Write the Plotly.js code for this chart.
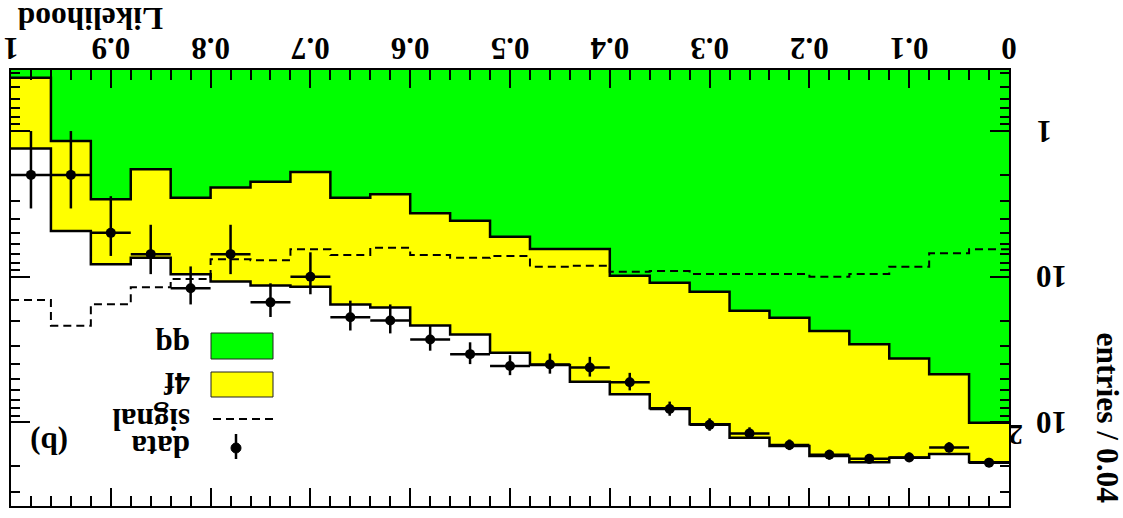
<!DOCTYPE html>
<html>
<head>
<meta charset="utf-8">
<script src="https://cdn.plot.ly/plotly-3.0.1.min.js"></script>
<style>
html,body{margin:0;padding:0;background:#fff;overflow:hidden;}
#chart{width:1123px;height:518px;transform:rotate(180deg);transform-origin:50% 50%;}
</style>
</head>
<body>
<div id="chart"></div>
<script>
// Bin edges of the Likelihood histogram (width 0.04)
const binEdges = [0,0.04,0.08,0.12,0.16,0.2,0.24,0.28,0.32,0.36,0.4,0.44,0.48,0.52,0.56,0.6,0.64,0.68,0.72,0.76,0.8,0.84,0.88,0.92,0.96,1.0];
const binCenters = [0.02,0.06,0.1,0.14,0.18,0.22,0.26,0.3,0.34,0.38,0.42,0.46,0.5,0.54,0.58,0.62,0.66,0.7,0.74,0.78,0.82,0.86,0.9,0.94,0.98];

// qq background (green)
const qqValues = [100.6,46.8,36.4,29.1,23.6,19.1,17.1,12.7,11.0,9.85,6.46,6.46,5.32,4.13,3.67,2.72,2.87,1.91,2.23,2.44,2.87,1.83,2.94,1.17,0.43];
// qq + 4f (total background, yellow region on top of qq)
const totalValues = [188,165,175,188,170,145,127.5,103,80,64,52.6,40.4,33.3,24.9,21.6,16.3,15.5,11.7,11.5,10.8,9.6,7.4,8.2,4.86,1.32];
// signal (dashed)
const signalValues = [6.49,6.91,8.54,9.59,10.0,9.59,9.59,9.59,9.14,9.25,8.41,8.54,7.22,7.41,7.10,6.33,7.10,6.49,7.72,7.60,10.37,11.83,15.48,21.7,14.46];
// data
const dataValues = [189,149,174,178,167,143,119,104,81,53,42,40,41,34,27,20,19,10,15,7,12,7,5,2,2];
const dataErrUp = [13.7,12.2,13.2,13.3,12.9,12.0,10.9,10.2,9.0,7.3,6.5,6.3,6.4,5.8,5.2,4.5,4.4,3.2,3.9,2.6,3.5,2.6,2.2,1.4,1.4];
const dataErrDown = [13.7,12.2,13.2,13.3,12.9,12.0,10.9,10.2,9.0,7.3,6.5,6.3,6.4,5.8,5.2,4.5,4.4,3.2,3.9,2.6,3.5,2.6,2.2,1.0,1.0];
const binHalfWidth = [0.02,0.02,0.02,0.02,0.02,0.02,0.02,0.02,0.02,0.02,0.02,0.02,0.02,0.02,0.02,0.02,0.02,0.02,0.02,0.02,0.02,0.02,0.02,0.02,0.02];

// tick labels
const xTickVals = [0,0.1,0.2,0.3,0.4,0.5,0.6,0.7,0.8,0.9,1];
const xTickText = ['0','0.1','0.2','0.3','0.4','0.5','0.6','0.7','0.8','0.9','1'];
const yTickVals = [1,10,100];
const yTickBase = ['1','10','10'];
const yTickExp = ['','','2'];
const yMinorVals = [0.4,0.5,0.6,0.7,0.8,0.9,2,3,4,5,6,7,8,9,20,30,40,50,60,70,80,90,200,300];
const legendLabels = ['data','signal','4f','qq'];

function stepY(v){ return v.concat([v[v.length-1]]); }
const floorValues = binEdges.map(()=>0.01);

const FONT = 'Liberation Serif, Times New Roman, serif';
const lineW = 2.5;

const traces = [
  {x:binEdges, y:floorValues, mode:'lines', line:{width:0, shape:'hv'}, hoverinfo:'skip'},
  {x:binEdges, y:stepY(qqValues), mode:'lines', line:{color:'black', width:lineW, shape:'hv'}, fill:'tonexty', fillcolor:'#00ff00'},
  {x:binEdges, y:stepY(totalValues), mode:'lines', line:{color:'black', width:lineW, shape:'hv'}, fill:'tonexty', fillcolor:'#ffff00'},
  {x:binEdges, y:stepY(signalValues), mode:'lines', line:{color:'black', width:2, shape:'hv', dash:'8px,5px'}},
  {x:binCenters, y:dataValues, mode:'markers', marker:{color:'black', size:10},
   error_y:{type:'data', symmetric:false, array:dataErrUp, arrayminus:dataErrDown, color:'black', thickness:2.5, width:0},
   error_x:{type:'data', array:binHalfWidth, color:'black', thickness:2.5, width:0}}
];

// plot-area pixel helpers (unrotated frame: x 114..1112, y 12..448)
const L=114, R=1112, T=12, B=448;
const px = v => (v-L)/(R-L);
const py = v => (B-v)/(B-T);

const shapes = [
  {type:'rect', xref:'paper', yref:'paper', x0:px(850), x1:px(912), y0:py(185), y1:py(159), fillcolor:'#00ff00', line:{color:'#222', width:1}},
  {type:'rect', xref:'paper', yref:'paper', x0:px(850), x1:px(912), y0:py(146), y1:py(121), fillcolor:'#ffff00', line:{color:'#222', width:1}},
  {type:'line', xref:'paper', yref:'paper', x0:px(850), x1:px(912), y0:py(99), y1:py(99), line:{color:'black', width:2, dash:'8px,5px'}},
  {type:'line', xref:'paper', yref:'paper', x0:px(887), x1:px(887), y0:py(59), y1:py(84), line:{color:'black', width:2.5}},
  {type:'circle', xref:'paper', yref:'paper', x0:px(882), x1:px(892), y0:py(75), y1:py(65), fillcolor:'black', line:{color:'black', width:1}}
];

const txtFont = s => ({family:FONT, size:s, weight:700, color:'black'});
const legendY = [71, 98, 134, 172];
const annotations = legendLabels.map((t,i)=>({
  xref:'paper', yref:'paper', x:px(931), y:py(legendY[i]), xanchor:'left', yanchor:'middle',
  text:t, showarrow:false, font:txtFont(31)
}));
annotations.push({xref:'paper', yref:'paper', x:px(1074), y:py(75), xanchor:'center', yanchor:'middle',
  text:'(b)', showarrow:false, font:txtFont(31)});
annotations.push({xref:'paper', yref:'paper', x:px(1108), y:py(499), xanchor:'right', yanchor:'middle',
  text:'Likelihood', showarrow:false, font:txtFont(31.5)});
annotations.push({xref:'paper', yref:'paper', x:px(16), y:py(13), xanchor:'center', yanchor:'top', textangle:-90,
  text:'entries / 0.04', showarrow:false, font:txtFont(31.5)});
// y tick labels (ROOT style, exponent raised to the right)
yTickVals.forEach((v,i)=>{
  annotations.push({xref:'paper', yref:'y', x:px(89), y:Math.log10(v), xanchor:'right', yanchor:'middle',
    text:yTickBase[i], showarrow:false, font:txtFont(31)});
  if(yTickExp[i]){
    annotations.push({xref:'paper', yref:'y', x:px(98), y:Math.log10(v), yshift:13, xanchor:'left', yanchor:'middle',
      text:yTickExp[i], showarrow:false, font:txtFont(29)});
  }
});

const layout = {
  width:1123, height:518,
  margin:{l:L, r:1123-R, t:T, b:518-B},
  paper_bgcolor:'white', plot_bgcolor:'white',
  showlegend:false,
  font:{family:FONT, size:31, color:'black', weight:700},
  xaxis:{range:[0,1], tickmode:'array', tickvals:xTickVals, ticktext:xTickText,
    ticks:'inside', ticklen:18, tickwidth:2, tickcolor:'black',
    showline:true, linewidth:2, linecolor:'black', mirror:'allticks',
    showgrid:false, zeroline:false,
    minor:{dtick:0.02, tick0:0, ticks:'inside', ticklen:10, tickwidth:2, tickcolor:'black', showgrid:false},
    tickfont:txtFont(31), ticklabelstandoff:-7},
  yaxis:{type:'log', range:[-0.419, 2.574], tickmode:'array', tickvals:yTickVals, showticklabels:false,
    ticks:'inside', ticklen:19, tickwidth:2, tickcolor:'black',
    showline:true, linewidth:2, linecolor:'black', mirror:'allticks',
    showgrid:false, zeroline:false,
    minor:{tickmode:'array', tickvals:yMinorVals, ticks:'inside', ticklen:9, tickwidth:2, tickcolor:'black', showgrid:false}},
  shapes:shapes,
  annotations:annotations
};

Plotly.newPlot('chart', traces, layout, {staticPlot:true, displayModeBar:false});
</script>
</body>
</html>
